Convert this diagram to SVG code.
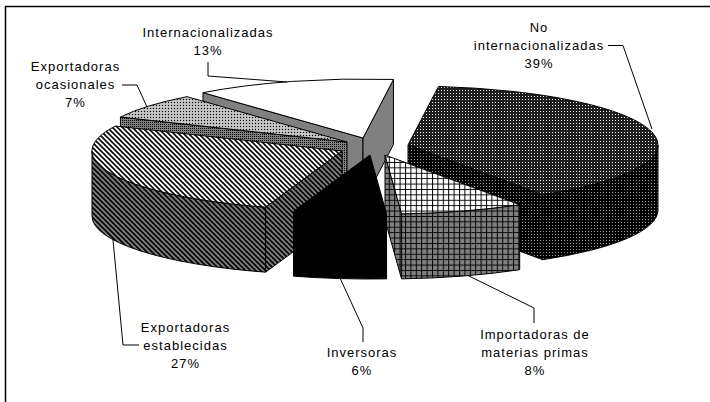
<svg xmlns="http://www.w3.org/2000/svg" width="710" height="402" viewBox="0 0 710 402">
<style>
  .f { stroke:#000; stroke-width:1; stroke-linejoin:round; }
  .lbl { font-family:"Liberation Sans", Arial, sans-serif; font-size:13px; letter-spacing:1px; fill:#000; text-anchor:middle; }
  .lead { fill:none; stroke:#000; stroke-width:1; }
</style>
<defs>
  <pattern id="pDark" width="3" height="3" patternUnits="userSpaceOnUse"><rect width="3" height="3" fill="#1e1e1e"/><rect width="1" height="1" fill="#fff"/></pattern>
  <pattern id="pDarkSide" width="3" height="3" patternUnits="userSpaceOnUse"><rect width="3" height="3" fill="#000"/><rect width="1" height="1" fill="#999"/></pattern>
  <pattern id="pGrid" width="5.4" height="5.4" patternUnits="userSpaceOnUse"><rect width="5.4" height="5.4" fill="#fff"/><path d="M0.5,0V5.4M0,0.5H5.4" stroke="#000" stroke-width="1"/></pattern>
  <pattern id="pGridSide" width="5.4" height="5.4" patternUnits="userSpaceOnUse"><rect width="5.4" height="5.4" fill="#808080"/><path d="M0.5,0V5.4M0,0.5H5.4" stroke="#000" stroke-width="1"/></pattern>
  <pattern id="pStripe" width="5" height="5" patternUnits="userSpaceOnUse"><rect width="5" height="5" fill="#fff"/><path d="M0,0L5,5M-1,4L1,6M4,-1L6,1" stroke="#000" stroke-width="1.6"/></pattern>
  <pattern id="pStripeSide" width="5" height="5" patternUnits="userSpaceOnUse"><rect width="5" height="5" fill="#808080"/><path d="M0,0L5,5M-1,4L1,6M4,-1L6,1" stroke="#000" stroke-width="1.6"/></pattern>
  <pattern id="pLight" width="3" height="3" patternUnits="userSpaceOnUse"><rect width="3" height="3" fill="#b4b4b4"/><rect width="1" height="1" fill="#000"/><rect x="1.5" y="1.5" width="1" height="1" fill="#fff"/></pattern>
  <pattern id="pLightSide" width="2" height="2" patternUnits="userSpaceOnUse"><rect width="2" height="2" fill="#808080"/><rect width="1" height="1" fill="#000"/></pattern>
</defs>

<path d="M5.5,402 L5.5,6.5 L710,6.5" fill="none" stroke="#000" stroke-width="1.5"/>

<g id="internacionalizadas">
  <path class="f" fill="#808080" d="M363,138 L202.97,92.67 L202.97,157.67 L363,203 Z"/>
  <path class="f" fill="#808080" d="M363,138 L393.47,79.44 L393.47,144.44 L363,203 Z"/>
  <path class="f" fill="#fff" d="M363,138 L202.97,92.67 A250,59 0 0,1 393.47,79.44 Z"/>
  <text class="lbl" x="208" y="37">Internacionalizadas</text>
  <text class="lbl" x="208" y="55">13%</text>
</g>

<g id="ocasionales">
  <path class="f" fill="url(#pLightSide)" d="M347,142 L120.42,117.07 L120.42,182.07 L347,207 Z"/>
  <path class="f" fill="url(#pLight)" d="M347,142 L120.42,117.07 A250,59 0 0,1 186.97,96.67 Z"/>
  <text class="lbl" x="75.5" y="70.5">Exportadoras</text>
  <text class="lbl" x="75.5" y="88.5">ocasionales</text>
  <text class="lbl" x="75.5" y="106.5">7%</text>
</g>

<g id="no-internacionalizadas">
  <path class="f" fill="url(#pDarkSide)" d="M408,145 L542.69,194.70 L542.69,259.70 L408,210 Z"/>
  <path class="f" fill="url(#pDarkSide)" d="M658,145 A250,59 0 0,1 542.69,194.70 L542.69,259.70 A250,59 0 0,0 658,210 Z"/>
  <path class="f" fill="url(#pDark)" d="M408,145 L438.47,86.44 A250,59 0 0,1 542.69,194.70 Z"/>
  <text class="lbl" x="539" y="32">No</text>
  <text class="lbl" x="539" y="50">internacionalizadas</text>
  <text class="lbl" x="539" y="68">39%</text>
</g>

<g id="establecidas">
  <path class="f" fill="url(#pStripeSide)" d="M342,151 L265.57,207.18 L265.57,272.18 L342,216 Z"/>
  <path class="f" fill="url(#pStripeSide)" d="M265.57,207.18 A250,59 0 0,1 92,151 L92,216 A250,59 0 0,0 265.57,272.18 Z"/>
  <path class="f" fill="url(#pStripe)" d="M342,151 L265.57,207.18 A250,59 0 0,1 115.42,126.07 Z"/>
  <text class="lbl" x="185.5" y="331.5">Exportadoras</text>
  <text class="lbl" x="185.5" y="349.5">establecidas</text>
  <text class="lbl" x="185.5" y="367.5">27%</text>
</g>

<g id="importadoras">
  <path class="f" fill="url(#pGridSide)" d="M385,155 L401.57,213.87 L401.57,278.87 L385,220 Z"/>
  <path class="f" fill="url(#pGridSide)" d="M519.69,204.70 A250,59 0 0,1 401.57,213.87 L401.57,278.87 A250,59 0 0,0 519.69,269.70 Z"/>
  <path class="f" fill="url(#pGrid)" d="M385,155 L519.69,204.70 A250,59 0 0,1 401.57,213.87 Z"/>
  <text class="lbl" x="535" y="339">Importadoras de</text>
  <text class="lbl" x="535" y="357">materias primas</text>
  <text class="lbl" x="535" y="375">8%</text>
</g>

<g id="inversoras">
  <path class="f" fill="#000" d="M370,155 L386.57,213.87 L386.57,278.87 A250,59 0 0,1 293.57,276.18 L293.57,211.18 Z"/>
  <text class="lbl" x="362" y="357">Inversoras</text>
  <text class="lbl" x="362" y="375">6%</text>
</g>

<g id="connectors">
  <path class="lead" d="M608,45.5 L623,45.5 L652,129"/>
  <path class="lead" d="M208,62 L208,76 L287,82"/>
  <path class="lead" d="M122,85 L137,85 L147,107"/>
  <path class="lead" d="M113,240 L123,345 L139,345"/>
  <path class="lead" d="M340,278 L363,328 L363,342"/>
  <path class="lead" d="M467,275 L534,308 L534,323"/>
</g>
</svg>
